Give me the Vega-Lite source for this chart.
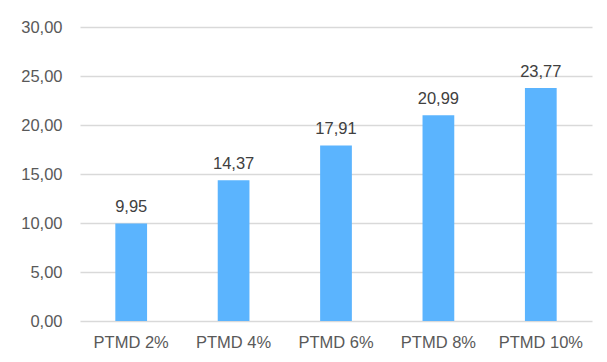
{
  "$schema": "https://vega.github.io/schema/vega-lite/v6.json",
  "width": 512,
  "height": 294,
  "autosize": {"type": "none"},
  "padding": {"left": 80, "top": 27, "right": 15, "bottom": 41},
  "background": "white",
  "config": {
    "view": {"stroke": null},
    "font": "Liberation Sans",
    "locale": {"number": {"decimal": ",", "thousands": ".", "grouping": [3], "currency": ["", " €"]}}
  },
  "data": {
    "values": [
      {"cat": "PTMD 2%", "value": 9.95},
      {"cat": "PTMD 4%", "value": 14.37},
      {"cat": "PTMD 6%", "value": 17.91},
      {"cat": "PTMD 8%", "value": 20.99},
      {"cat": "PTMD 10%", "value": 23.77}
    ]
  },
  "encoding": {
    "x": {
      "field": "cat", "type": "nominal", "sort": null, "title": null,
      "scale": {"paddingInner": 0.69, "paddingOuter": 0.345},
      "axis": {"labelAngle": 0, "labelFontSize": 16.5, "labelColor": "#595959", "domain": false, "ticks": false, "labelPadding": 13}
    },
    "y": {
      "field": "value", "type": "quantitative", "title": null,
      "scale": {"domain": [0, 30]},
      "axis": {"values": [0, 5, 10, 15, 20, 25, 30], "format": ".2f", "labelFontSize": 16.5, "labelColor": "#595959", "domain": false, "ticks": false, "labelPadding": 18, "gridColor": "#D9D9D9", "gridWidth": 1.3}
    }
  },
  "layer": [
    {"mark": {"type": "bar", "color": "#5BB4FE"}},
    {
      "mark": {"type": "text", "baseline": "alphabetic", "dy": -11, "fontSize": 16.5, "color": "#404040"},
      "encoding": {"text": {"field": "value", "type": "quantitative", "format": ".2f"}}
    }
  ]
}
